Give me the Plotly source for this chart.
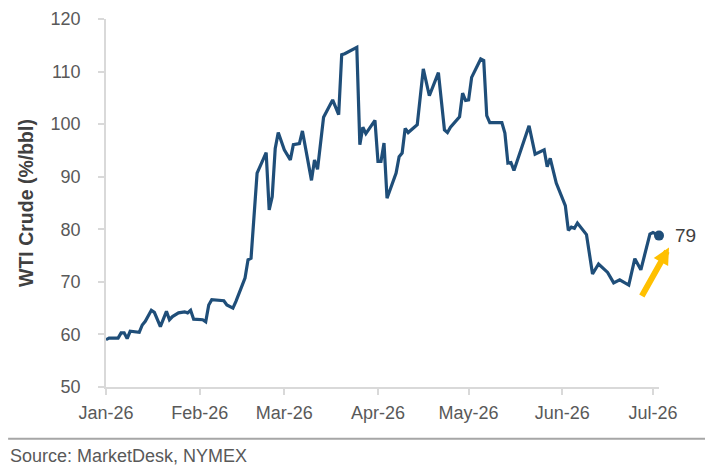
import plotly.graph_objects as go

# ── Data ──────────────────────────────────────────────────────
dates = [
    "2026-01-01", "2026-01-02", "2026-01-05", "2026-01-06", "2026-01-07",
    "2026-01-08", "2026-01-09", "2026-01-12", "2026-01-13", "2026-01-14",
    "2026-01-16", "2026-01-17", "2026-01-19", "2026-01-21", "2026-01-22",
    "2026-01-23", "2026-01-25", "2026-01-27", "2026-01-28", "2026-01-29",
    "2026-01-30", "2026-02-02", "2026-02-03", "2026-02-04", "2026-02-05",
    "2026-02-09", "2026-02-10", "2026-02-12", "2026-02-13", "2026-02-15",
    "2026-02-16", "2026-02-17", "2026-02-18", "2026-02-20", "2026-02-23",
    "2026-02-24", "2026-02-25", "2026-02-26", "2026-02-27", "2026-03-01",
    "2026-03-03", "2026-03-04", "2026-03-06", "2026-03-07", "2026-03-10",
    "2026-03-11", "2026-03-12", "2026-03-14", "2026-03-17", "2026-03-19",
    "2026-03-20", "2026-03-21", "2026-03-25", "2026-03-26", "2026-03-27",
    "2026-03-28", "2026-03-31", "2026-04-01", "2026-04-02", "2026-04-03",
    "2026-04-04", "2026-04-07", "2026-04-08", "2026-04-09", "2026-04-10",
    "2026-04-11", "2026-04-14", "2026-04-16", "2026-04-18", "2026-04-21",
    "2026-04-23", "2026-04-24", "2026-04-25", "2026-04-28", "2026-04-29",
    "2026-04-30", "2026-05-01", "2026-05-02", "2026-05-05", "2026-05-06",
    "2026-05-07", "2026-05-08", "2026-05-12", "2026-05-13", "2026-05-14",
    "2026-05-15", "2026-05-16", "2026-05-21", "2026-05-23", "2026-05-26",
    "2026-05-27", "2026-05-28", "2026-05-30", "2026-06-02", "2026-06-03",
    "2026-06-04", "2026-06-05", "2026-06-06", "2026-06-09", "2026-06-11",
    "2026-06-13", "2026-06-16", "2026-06-18", "2026-06-20", "2026-06-23",
    "2026-06-25", "2026-06-27", "2026-06-30", "2026-07-01", "2026-07-03",
]
wti = [
    59.0, 59.3, 59.3, 60.3, 60.3,
    59.2, 60.6, 60.4, 61.8, 62.5,
    64.6, 64.2, 61.5, 64.4, 62.8,
    63.4, 64.1, 64.3, 64.1, 64.6,
    62.9, 62.8, 62.4, 65.6, 66.6,
    66.4, 65.6, 65.0, 66.3, 69.1,
    70.7, 74.2, 74.5, 90.7, 94.6,
    83.7, 86.2, 95.4, 98.4, 95.1,
    93.2, 96.1, 96.3, 98.7, 89.3,
    93.2, 91.4, 101.3, 104.6, 101.8,
    113.2, 113.4, 114.6, 96.1, 99.4,
    98.2, 100.7, 92.9, 92.9, 96.4,
    85.9, 90.7, 93.8, 94.5, 99.2,
    98.4, 99.9, 110.5, 105.4, 109.8,
    98.9, 98.4, 99.4, 101.4, 105.9,
    104.5, 104.6, 108.9, 112.4, 112.1,
    101.6, 100.3, 100.3, 98.3, 92.6,
    92.7, 91.2, 99.7, 94.3, 95.1,
    91.9, 93.5, 88.8, 84.5, 79.8,
    80.4, 80.2, 81.2, 79.0, 71.5,
    73.4, 71.8, 69.8, 70.4, 69.4,
    74.4, 72.3, 79.1, 79.4, 78.8,
]
y_ticks = [50, 60, 70, 80, 90, 100, 110, 120]
x_range = ["2026-01-01", "2026-07-03"]

LINE = "#1F4E79"
AXIS = "#D9D9D9"
TEXT = "#595959"
FONT = "Liberation Sans, Arial, sans-serif"

fig = go.Figure()

fig.add_trace(go.Scatter(
    x=dates, y=wti, mode="lines",
    line=dict(color=LINE, width=3.2),
    showlegend=False,
))

# end-point marker
fig.add_trace(go.Scatter(
    x=[dates[-1]], y=[wti[-1]], mode="markers",
    marker=dict(color=LINE, size=10),
    cliponaxis=False, showlegend=False,
))

# last value label
fig.add_annotation(
    x=dates[-1], y=wti[-1], text=f"{round(wti[-1])}",
    showarrow=False, xanchor="left", xshift=14,
    font=dict(family=FONT, size=19, color="#404040"),
)

# gold arrow pointing up to the last value
fig.add_annotation(
    x=dates[-1], y=wti[-1], xshift=10, yshift=-12,
    text="", showarrow=True,
    ax=-28, ay=50,
    arrowhead=2, arrowsize=0.55, arrowwidth=6, arrowcolor="#FFC000",
)

fig.add_annotation(
    xref="paper", yref="paper", x=-0.177, y=-0.155,
    text="Source: MarketDesk, NYMEX", showarrow=False,
    xanchor="left", yanchor="top",
    font=dict(family=FONT, size=18, color=TEXT),
)

# footer rule
fig.add_shape(
    type="line", xref="paper", yref="paper",
    x0=-0.177, x1=1.1, y0=-0.1404, y1=-0.1404,
    line=dict(color="#A6A6A6", width=2),
)

# page body keeps an 8px margin top/left, so the figure is 8px smaller
fig.update_layout(
    width=705, height=468,
    margin=dict(l=98, r=54, t=11, b=89),
    paper_bgcolor="white", plot_bgcolor="white",
    font=dict(family=FONT, size=18, color=TEXT),
)
fig.update_xaxes(
    type="date", range=x_range, automargin=False,
    dtick="M1", tickformat="%b-%y", tick0="2026-01-01",
    showgrid=False, zeroline=False,
    showline=True, linecolor=AXIS, linewidth=1.5,
    ticks="outside", ticklen=6, tickcolor=AXIS, tickwidth=1.5,
    ticklabelstandoff=3,
    tickfont=dict(family=FONT, size=18, color=TEXT),
)
fig.update_yaxes(
    range=[50, 120], tickvals=y_ticks, automargin=False,
    showgrid=False, zeroline=False,
    showline=True, linecolor=AXIS, linewidth=1.5,
    ticks="outside", ticklen=6, tickcolor=AXIS, tickwidth=1.5,
    ticklabelstandoff=14,
    tickfont=dict(family=FONT, size=18, color=TEXT),
    title=dict(text="<b>WTI Crude (%/bbl)</b>", standoff=12,
               font=dict(family=FONT, size=19.5, color="#404040")),
)

fig.write_html("out.html")
